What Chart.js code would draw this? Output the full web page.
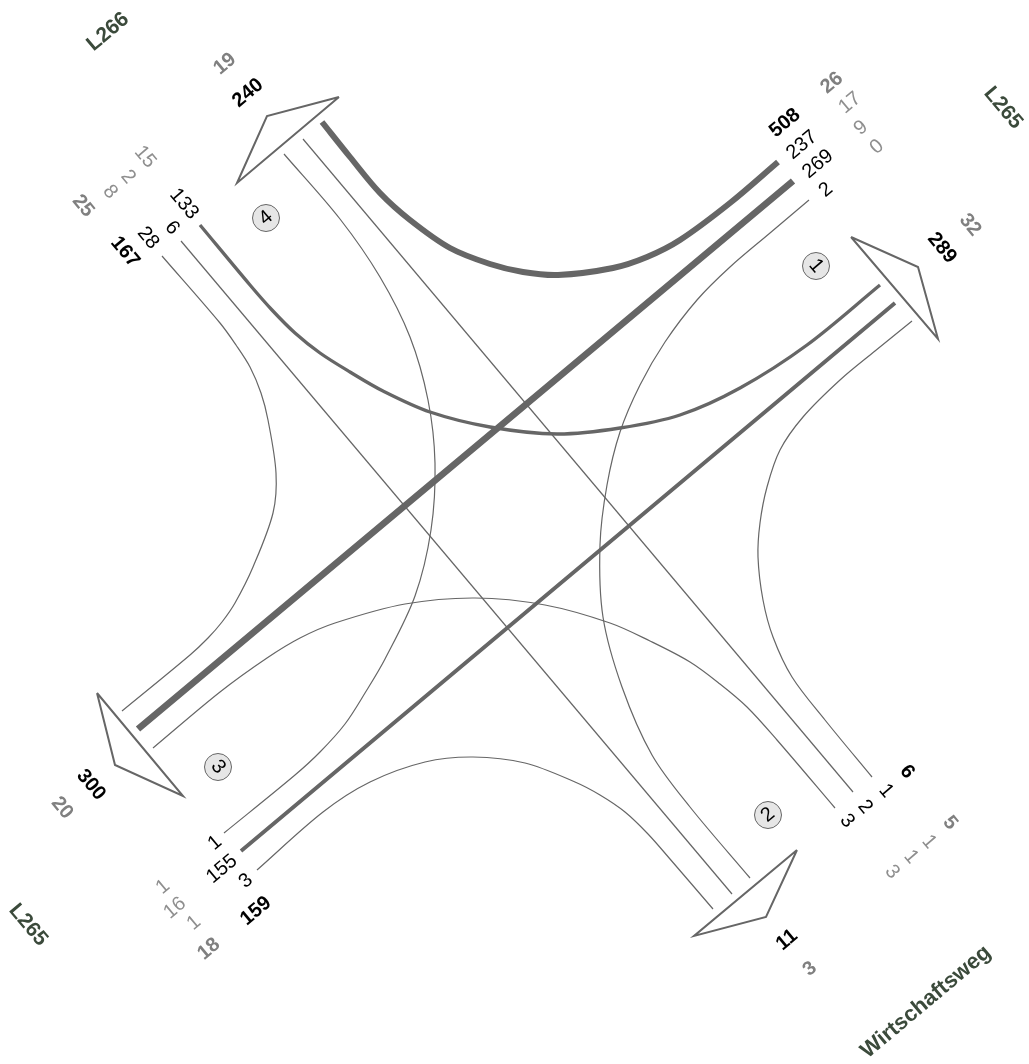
<!DOCTYPE html>
<html>
<head>
<meta charset="utf-8">
<title>Knotenstrom</title>
<script src="https://cdn.jsdelivr.net/npm/chart.js@4"></script>
<style>
    html, body { margin: 0; padding: 0; background: #fff; }
    canvas { display: block; }
</style>
</head>
<body>
<canvas id="chart" width="1029" height="1064"></canvas>
<script>
// traffic flows, in the order of the labels at the arm they start from
var flowsNE = [237, 269, 2];
var flowsSE = [1, 2, 3];
var flowsSW = [1, 155, 3];
var flowsNW = [133, 6, 28];

// stream paths
var pathNE1 = [[778,162],[730,203],[680,240],[647,257],[613,268],[558,275],[523,272],[490,264],[450,248],[410,220],[380,193],[350,157],[322,122]];
var pathNE2 = [[793,181],[138,729]];
var pathNE3 = [[809,200],[770,233],[730,267],[697,300],[665,342],[640,385],[620,432],[607,485],[600,545],[603,617],[622,687],[652,755],[690,807],[750,878]];
var pathSE1 = [[872,777],[825,720],[792,677],[773,637],[763,600],[758,557],[760,523],[767,487],[780,450],[803,417],[840,380],[875,351],[912,321]];
var pathSE2 = [[853,792],[303,139]];
var pathSE3 = [[835,808],[777,740],[747,707],[720,684],[690,662],[650,641],[610,623],[545,605],[475,598],[405,604],[335,623],[300,638],[267,658],[220,692],[153,748]];
var pathSW1 = [[224,833],[295,775],[320,752],[345,724],[365,693],[385,659],[415,596],[431,530],[435,463],[428,400],[410,337],[380,277],[340,219],[284,154]];
var pathSW2 = [[241,851],[895,303]];
var pathSW3 = [[257,870],[323,812],[370,782],[425,762],[473,757],[525,763],[575,782],[600,795],[625,812],[648,834],[670,859],[713,909]];
var pathNW1 = [[200,225],[250,285],[272,310],[295,333],[320,353],[350,372],[383,391],[430,412],[490,427],[557,434],[620,428],[680,415],[740,388],[807,345],[880,285]];
var pathNW2 = [[181,241],[732,894]];
var pathNW3 = [[162,256],[220,323],[236,345],[250,367],[261,393],[268,420],[276,473],[273,513],[253,567],[235,603],[222,622],[208,638],[190,655],[122,711]];

var armArrows = [
    [[851,237],[918,267],[938,339],[851,237]],
    [[797,850],[766,917],[694,936],[797,850]],
    [[97,693],[115,765],[183,796],[97,693]],
    [[339,97],[267,116],[237,183],[339,97]]
];

var armNumbers = ['1', '2', '3', '4'];
var armCentres = [[816,266],[768,815],[218,767],[266,218]];
var armNumberAngles = [50, -40, 50, -40];

// text, position, angle, style: d = flow, t = total, g = lorry, h = lorry total, r = road
var labelTexts = ['508','237','269','2','26','17','9','0','289','32',
    'L266','19','240','15','2','8','25','133','6','28','167',
    'L265','300','20','L265','1','155','3','159','1','16','1','18',
    '6','1','2','3','5','1','1','3','11','3','Wirtschaftsweg'];
var labelX = [785,802,818,826,832,850,861,877,942,970,
    108,225,248,145,128,110,83,184,172,148,125,
    1003,91,62,28,215,222,246,256,163,175,194,209,
    907,886,865,847,950,929,911,892,787,810,926];
var labelY = [123,145,164,190,83,103,128,147,248,225,
    32,64,93,157,177,192,206,204,228,238,252,
    108,785,808,925,843,869,881,911,887,908,923,949,
    772,791,807,821,823,842,857,872,940,969,1002];
var labelAngles = [-40,-40,-40,-40,-40,-40,-40,-40,50,50,
    -40,-40,-40,50,50,50,50,50,50,50,50,
    50,50,50,50,-40,-40,-40,-40,-40,-40,-40,-40,
    50,50,50,50,50,50,50,50,-40,-40,-40];
var labelStyles = ['t','d','d','d','h','g','g','g','t','h',
    'r','h','t','g','g','g','h','d','d','d','t',
    'r','t','h','r','d','d','d','t','g','g','g','h',
    't','d','d','d','h','g','g','g','t','h','w'];

var textStyles = {
    d: {font: '20px "Liberation Sans", Arial, sans-serif', color: '#000000'},
    t: {font: 'bold 20px "Liberation Sans", Arial, sans-serif', color: '#000000'},
    g: {font: '20px "Liberation Sans", Arial, sans-serif', color: '#8f8f8f'},
    h: {font: 'bold 20px "Liberation Sans", Arial, sans-serif', color: '#808080'},
    r: {font: 'bold 21px "Liberation Sans", Arial, sans-serif', color: '#3b4a3b'},
    w: {font: 'bold 22px "Liberation Sans", Arial, sans-serif', color: '#3b4a3b'}
};

var LINE_COLOR = '#666666';

function toPoints(pairs) {
    return pairs.map(function(pair) { return {x: pair[0], y: pair[1]}; });
}

// width follows the flow, one pixel at least
function streamDataset(path, flow) {
    return {
        data: toPoints(path),
        showLine: true,
        borderColor: LINE_COLOR,
        borderWidth: Math.max(1.2, flow / 40),
        borderCapStyle: 'butt',
        tension: 0.33,
        pointRadius: 0
    };
}

var datasets = [
    streamDataset(pathNE1, flowsNE[0]),
    streamDataset(pathNE2, flowsNE[1]),
    streamDataset(pathNE3, flowsNE[2]),
    streamDataset(pathSE1, flowsSE[0]),
    streamDataset(pathSE2, flowsSE[1]),
    streamDataset(pathSE3, flowsSE[2]),
    streamDataset(pathSW1, flowsSW[0]),
    streamDataset(pathSW2, flowsSW[1]),
    streamDataset(pathSW3, flowsSW[2]),
    streamDataset(pathNW1, flowsNW[0]),
    streamDataset(pathNW2, flowsNW[1]),
    streamDataset(pathNW3, flowsNW[2])
];

armArrows.forEach(function(arrow) {
    datasets.push({
        data: toPoints(arrow),
        showLine: true,
        borderColor: LINE_COLOR,
        borderWidth: 2,
        borderJoinStyle: 'miter',
        tension: 0,
        pointRadius: 0
    });
});

datasets.push({
    data: toPoints(armCentres),
    showLine: false,
    pointRadius: 13.5,
    pointBackgroundColor: '#e6e6e6',
    pointBorderColor: LINE_COLOR,
    pointBorderWidth: 1
});

function drawText(ctx, text, x, y, angle, style) {
    ctx.save();
    ctx.translate(x, y);
    ctx.rotate(angle * Math.PI / 180);
    ctx.font = style.font;
    ctx.fillStyle = style.color;
    ctx.textAlign = 'center';
    ctx.textBaseline = 'middle';
    ctx.fillText(text, 0, 0);
    ctx.restore();
}

var labelPlugin = {
    id: 'flowLabels',
    afterDatasetsDraw: function(chart) {
        var ctx = chart.ctx;
        var sx = chart.scales.x, sy = chart.scales.y;
        labelTexts.forEach(function(text, i) {
            drawText(ctx, text, sx.getPixelForValue(labelX[i]), sy.getPixelForValue(labelY[i]),
                labelAngles[i], textStyles[labelStyles[i]]);
        });
        armNumbers.forEach(function(text, i) {
            drawText(ctx, text, sx.getPixelForValue(armCentres[i][0]), sy.getPixelForValue(armCentres[i][1]),
                armNumberAngles[i], textStyles.d);
        });
    }
};

new Chart(document.getElementById('chart').getContext('2d'), {
    type: 'scatter',
    data: {datasets: datasets},
    options: {
        responsive: false,
        animation: false,
        layout: {padding: 0, autoPadding: false},
        plugins: {legend: {display: false}, tooltip: {enabled: false}},
        scales: {
            x: {type: 'linear', display: false, min: 0, max: 1029},
            y: {type: 'linear', display: false, min: 0, max: 1064, reverse: true}
        }
    },
    plugins: [labelPlugin]
});
</script>
</body>
</html>
